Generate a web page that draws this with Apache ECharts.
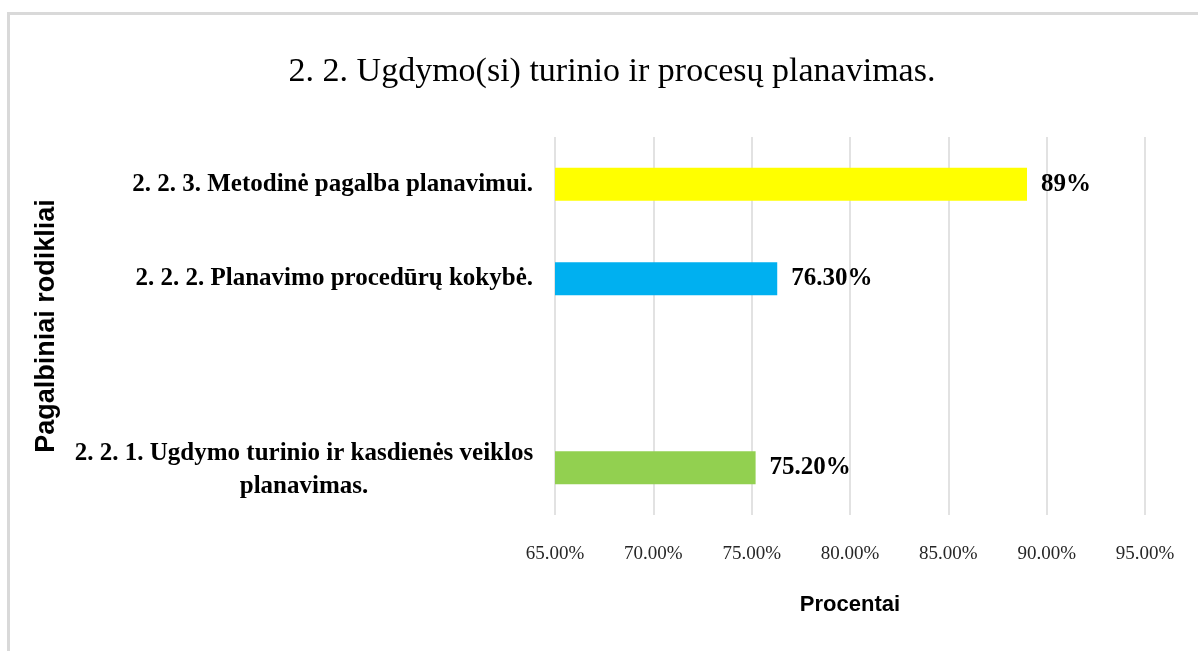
<!DOCTYPE html>
<html>
<head>
<meta charset="utf-8">
<title>2. 2. Ugdymo(si) turinio ir procesų planavimas.</title>
<script src="https://cdn.jsdelivr.net/npm/echarts@6/dist/echarts.min.js"></script>
<style>
  html, body { margin: 0; padding: 0; background: #ffffff; }
  #chart { width: 1198px; height: 651px; }
</style>
</head>
<body>
<div id="chart"></div>
<script>
// rodikliai from bottom to top; the empty one is the gap between 2.2.1 and 2.2.2
const categories = [
  "2. 2. 1. Ugdymo turinio ir kasdienės veiklos\nplanavimas.",
  "",
  "2. 2. 2. Planavimo procedūrų kokybė.",
  "2. 2. 3. Metodinė pagalba planavimui."
];
const values = [75.2, null, 76.3, 89];
const valueLabels = ["75.20%", "", "76.30%", "89%"];
const barColors = ["#92D050", "#FFFFFF", "#00B0F0", "#FFFF00"];
const xTicks = { min: 65, max: 95, step: 5 };

const serif = "'Liberation Serif', 'Times New Roman', serif";
const sans = "'Liberation Sans', Arial, sans-serif";

const myChart = echarts.init(document.getElementById("chart"));

const option = {
  backgroundColor: "#ffffff",
  animation: false,
  title: {
    text: "2. 2. Ugdymo(si) turinio ir procesų planavimas.",
    left: 607,
    top: 50,
    textAlign: "center",
    textStyle: {
      fontFamily: serif,
      fontSize: 34,
      fontWeight: "normal",
      color: "#000000"
    }
  },
  graphic: [
    {
      type: "polyline",
      silent: true,
      shape: { points: [[8.5, 651], [8.5, 13.5], [1198, 13.5]] },
      style: { stroke: "#d9d9d9", lineWidth: 3, fill: null }
    }
  ],
  grid: {
    left: 555,
    right: 53,
    top: 137,
    bottom: 136
  },
  xAxis: {
    type: "value",
    min: xTicks.min,
    max: xTicks.max,
    interval: xTicks.step,
    name: "Procentai",
    nameLocation: "middle",
    nameGap: 79,
    nameTextStyle: {
      fontFamily: sans,
      fontSize: 22,
      fontWeight: "bold",
      color: "#000000"
    },
    axisLine: { show: false },
    axisTick: { show: false },
    axisLabel: {
      margin: 30,
      fontFamily: serif,
      fontSize: 19,
      color: "#262626",
      formatter: (v) => v.toFixed(2) + "%"
    },
    splitLine: {
      show: true,
      lineStyle: { color: "#d9d9d9", width: 1.5 }
    }
  },
  yAxis: {
    type: "category",
    data: categories,
    name: "Pagalbiniai rodikliai",
    nameLocation: "middle",
    nameRotate: 90,
    nameGap: 495,
    nameTextStyle: {
      fontFamily: sans,
      fontSize: 27,
      fontWeight: "bold",
      color: "#000000"
    },
    axisLine: { show: false },
    axisTick: { show: false },
    axisLabel: {
      margin: 22,
      fontFamily: serif,
      fontSize: 25,
      fontWeight: "bold",
      color: "#000000",
      lineHeight: 38,
      formatter: (v) => {
        if (v.indexOf("\n") < 0) return v;
        const lines = v.split("\n");
        return "{c1|" + lines[0] + "}\n{c|" + lines[1] + "}";
      },
      rich: {
        c1: {
          width: 458,
          align: "center",
          padding: [10, 0, 0, 0],
          fontFamily: serif,
          fontSize: 25,
          fontWeight: "bold",
          color: "#000000",
          lineHeight: 38
        },
        c: {
          width: 458,
          align: "center",
          fontFamily: serif,
          fontSize: 25,
          fontWeight: "bold",
          color: "#000000",
          lineHeight: 38
        }
      }
    }
  },
  series: [
    {
      type: "bar",
      barWidth: 33,
      data: values.map((v, i) => ({
        value: v,
        itemStyle: { color: barColors[i] }
      })),
      label: {
        show: true,
        position: "right",
        distance: 14,
        fontFamily: serif,
        fontSize: 25,
        fontWeight: "bold",
        color: "#000000",
        formatter: (p) => valueLabels[p.dataIndex]
      }
    }
  ]
};

myChart.setOption(option);
</script>
</body>
</html>
